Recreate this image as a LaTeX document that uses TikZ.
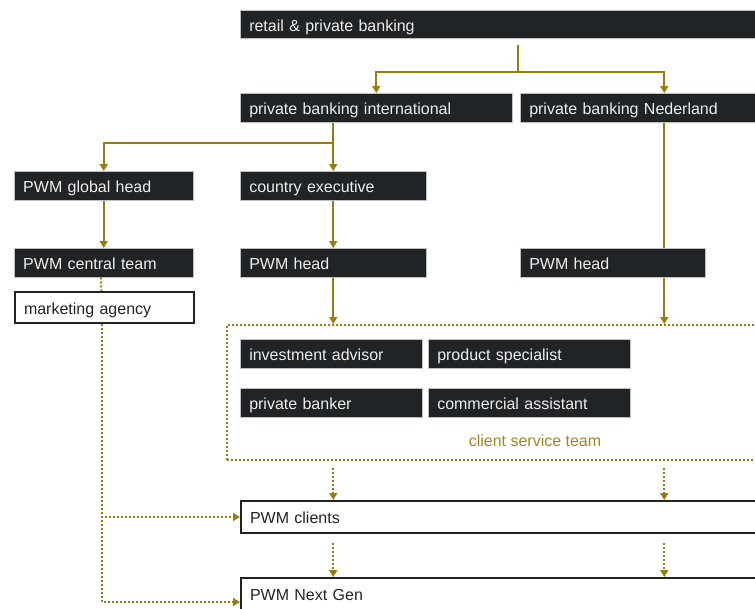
\documentclass[tikz,border=0pt]{standalone}
\usepackage{fontspec}
\setmainfont{Liberation Sans}
\usetikzlibrary{arrows.meta}

\definecolor{boxdark}{RGB}{33,36,39}
\definecolor{boxtext}{RGB}{238,238,238}
\definecolor{linkolive}{RGB}{152,124,16}
\definecolor{labelolive}{RGB}{163,134,30}

\tikzset{
  darkbox/.style={fill=boxdark, draw=black!25, line width=0.5pt, text=boxtext, anchor=north west,
    inner xsep=9pt, inner ysep=0pt, minimum height=29pt, text height=14pt, text depth=0.5pt, align=left},
  whitebox/.style={fill=white, draw=boxdark, line width=2pt, text=boxdark, anchor=north west,
    inner xsep=9pt, inner ysep=0pt, minimum height=31pt, text height=14pt, text depth=0.5pt, align=left},
  teambox/.style={draw=linkolive, line width=2pt, dash pattern=on 2pt off 2pt, anchor=north west,
    inner sep=0pt},
  link/.style={draw=linkolive, line width=2pt},
  dotlink/.style={draw=linkolive, line width=2pt, dash pattern=on 2pt off 2pt},
  arr/.style={-{Triangle[length=7pt,width=8pt]}}
}

\begin{document}
\begin{tikzpicture}[x=1pt, y=-1pt, font=\fontsize{16}{19}\selectfont]
  \useasboundingbox (0,0) rectangle (755,608);
  \clip (0,0) rectangle (755,608);

  % Top of the tree
  \node[darkbox, text width=522pt, minimum height=28pt] (retail) at (240,10) {retail \& private banking};
  \node[darkbox, text width=254pt] (pbi) at (240,93) {private banking international};
  \node[darkbox, text width=270pt] (pbn) at (520,93) {private banking Nederland};

  % International branch
  \node[darkbox, text width=161pt] (globalhead) at (14,171) {PWM global head};
  \node[darkbox, text width=168pt] (countryexec) at (240,171) {country executive};
  \node[darkbox, text width=161pt] (centralteam) at (14,248) {PWM central team};
  \node[darkbox, text width=168pt] (pwmheadint) at (240,248) {PWM head};
  \node[whitebox, text width=161pt] (agency) at (14,291) {marketing agency};

  % Nederland branch
  \node[darkbox, text width=167pt] (pwmheadnl) at (520,248) {PWM head};

  % Client service team
  \node[teambox, minimum width=560pt, minimum height=135pt] (cst) at (226,324) {};
  \node[darkbox, text width=164pt] (invadvisor) at (240,339) {investment advisor};
  \node[darkbox, text width=184pt] (prodspec) at (428,339) {product specialist};
  \node[darkbox, text width=164pt] (banker) at (240,388) {private banker};
  \node[darkbox, text width=184pt] (assistant) at (428,388) {commercial assistant};
  \node[text=labelolive, inner sep=0pt] (cstlabel) at (535,441) {client service team};

  % Clients
  \node[whitebox, text width=522pt, minimum height=32pt] (clients) at (240,500) {PWM clients};
  \node[whitebox, text width=522pt, minimum height=32pt] (nextgen) at (240,577) {PWM Next Gen};

  % Solid lines
  \coordinate (rtop) at (518,45);
  \coordinate (rsplit) at (518,72);
  \draw[link] (rtop) -- (rsplit);
  \draw[link, arr] (rsplit) -| (pbi.north);
  \draw[link, arr] (rsplit) -| (pbn.north);
  \coordinate (isplit) at (333,143);
  \draw[link, arr] (pbi.south -| countryexec.north) -- (countryexec.north);
  \draw[link, arr] (isplit) -| (globalhead.north);
  \draw[link, arr] (globalhead.south) -- (centralteam.north);
  \draw[link, arr] (countryexec.south) -- (pwmheadint.north);
  \draw[link] (pbn.south) -- (pbn.south |- pwmheadnl.north);
  \draw[link, arr] (pbn.south |- pwmheadnl.south) -- (pbn.south |- cst.north);
  \draw[link, arr] (pwmheadint.south) -- (pwmheadint.south |- cst.north);

  % Dotted lines
  \draw[dotlink] ([xshift=-3pt]centralteam.south) -- ([xshift=-3pt]agency.north);
  \draw[dotlink, arr] ([xshift=-3pt]agency.south) |- (clients.west);
  \draw[dotlink, arr] ([xshift=-3pt]agency.south) |- ([yshift=-8pt]nextgen.west);
  \draw[dotlink, arr] ([yshift=-7pt]cst.south -| pwmheadint.south) -- (clients.north -| pwmheadint.south);
  \draw[dotlink, arr] ([yshift=-7pt]cst.south -| pbn.south) -- (clients.north -| pbn.south);
  \draw[dotlink, arr] ([yshift=-9pt]clients.south -| pwmheadint.south) -- (nextgen.north -| pwmheadint.south);
  \draw[dotlink, arr] ([yshift=-9pt]clients.south -| pbn.south) -- (nextgen.north -| pbn.south);
\end{tikzpicture}
\end{document}
